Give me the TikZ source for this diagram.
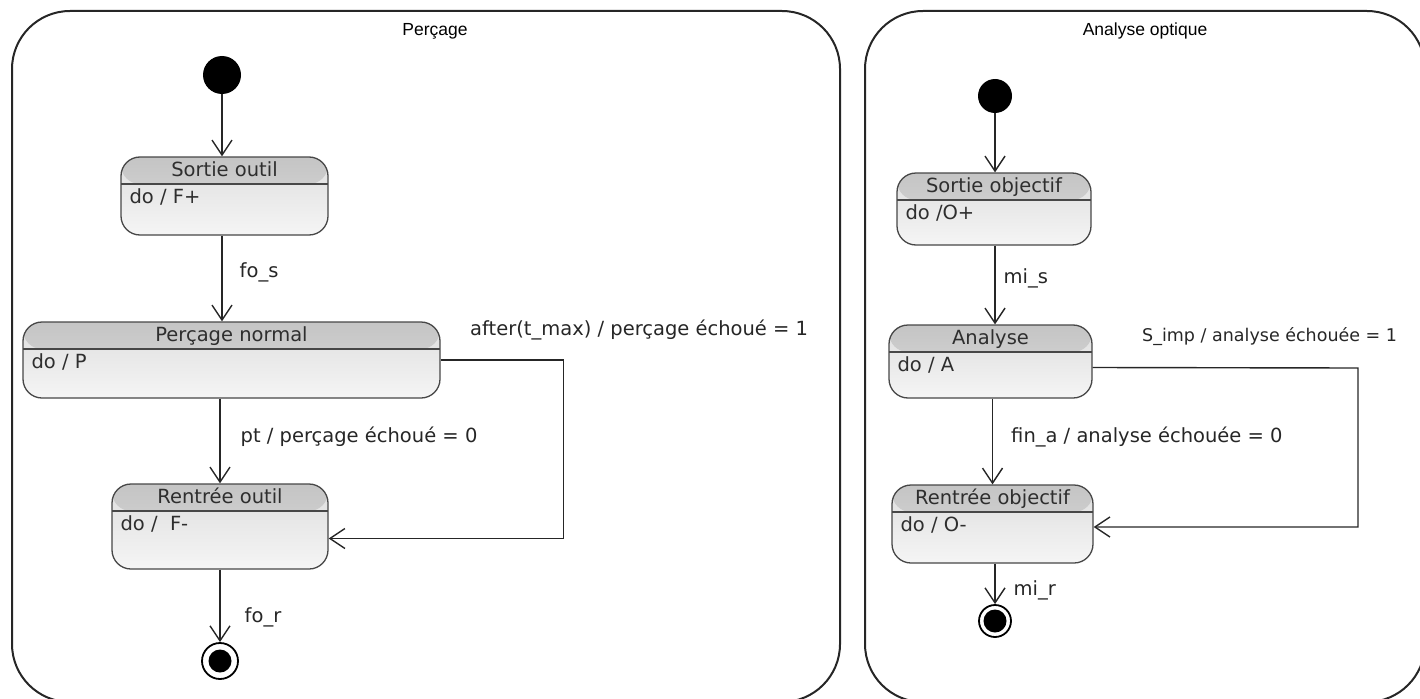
\documentclass[tikz,border=0pt]{standalone}
\usepackage{fontspec}
\setmainfont{DejaVu Sans}
\newfontfamily\framefont{Liberation Sans}
\usetikzlibrary{arrows.meta,positioning,calc}
\newcommand{\umlstate}[7]{% name, x, y, width, height, title, action
  \node[umlstate, minimum width=#4pt, minimum height=#5pt] (#1) at (#2,#3) {};
  \node[statetext, anchor=base] (#1title) at ([yshift=-20pt]#1.north) {#6};
  \node[statetext, anchor=base west] (#1do) at ([xshift=9pt,yshift=-47pt]#1.north west) {#7};
}

\begin{document}
\begin{tikzpicture}[
  x=1pt, y=-1pt,
  every node/.style={font=\fontsize{19.5}{22}\selectfont},
  frame/.style={draw=black!85, line width=2pt, rounded corners=58pt},
  frametitle/.style={font=\framefont\fontsize{17.5}{20}\selectfont},
  umlstate/.style={draw=black!72, line width=1.3pt, rounded corners=19pt,
    top color=black!13, bottom color=black!4, inner sep=0pt,
    path picture={
      \shade[top color=black!23, bottom color=black!14]
        (path picture bounding box.north west) rectangle ([yshift=-27pt]path picture bounding box.north east);
      \draw[black!72, line width=1.3pt]
        ([yshift=-27pt]path picture bounding box.north west) -- ([yshift=-27pt]path picture bounding box.north east);
    }},
  statetext/.style={text=black!82, inner sep=0pt},
  initial/.style={circle, fill=black, inner sep=0pt, minimum size=#1},
  final/.style={circle, draw=black, line width=1.8pt, fill=white, inner sep=0pt, minimum size=#1,
    path picture={\fill[black] (path picture bounding box.center) circle (11.5pt);}},
  trans/.style={draw=black!85, line width=1.4pt, -{Straight Barb[length=15pt,width=20pt]}},
  lbl/.style={text=black!85, inner sep=2pt}
]
\useasboundingbox (0,0) rectangle (1420,698);

% frames
\draw[frame] (12,11) rectangle (840,702);
\draw[frame] (865,11) rectangle (1425,702);
\node[frametitle] (titleP) at (435,31) {Perçage};
\node[frametitle] (titleA) at (1145,31) {Analyse optique};

% Percage
\node[initial=38pt] (iniP) at (222,75) {};
\umlstate{sortie}{224.5}{196}{207}{78}{Sortie outil}{do / F+}
\umlstate{percage}{231.5}{360}{417}{76}{Perçage normal}{do / P}
\umlstate{rentree}{220}{526.5}{216}{85}{Rentrée outil}{do /~~F-}
\node[final=36pt] (finP) at (220,661) {};

\draw[trans] (iniP) -- (iniP |- sortie.north);
\draw[trans] (sortie.south -| iniP) -- node[lbl, pos=0.43, right=15pt] {fo\_s} (iniP |- percage.north);
\draw[trans] (percage.south -| rentree) -- node[lbl, pos=0.45, right=18pt] {pt / perçage échoué = 0} (rentree.north);
\draw[trans] (rentree) -- node[lbl, pos=0.66, right=22pt] {fo\_r} (finP);
\draw[trans] (percage.east) -- ++(123,0) |- ([yshift=-12pt]rentree.east);
\node[lbl, anchor=west] (afterP) at (468,330) {after(t\_max) / perçage échoué = 1};

% Analyse optique
\node[initial=34pt] (iniA) at (995,96) {};
\umlstate{sortieobj}{994}{209}{194}{72}{Sortie objectif}{do /O+}
\umlstate{analyse}{990.5}{361.5}{203}{73}{Analyse}{do / A}
\umlstate{rentreeobj}{992.5}{524}{201}{78}{Rentrée objectif}{do / O-}
\node[final=32pt] (finA) at (995,621) {};

\draw[trans] (iniA) -- (iniA |- sortieobj.north);
\draw[trans] (sortieobj.south -| iniA) -- node[lbl, pos=0.42, right=6pt] {mi\_s} (iniA |- analyse.north);
\draw[trans] (analyse.south -| rentreeobj) -- node[lbl, pos=0.45, right=16pt] {fin\_a / analyse échouée = 0} (rentreeobj.north);
\draw[trans] (rentreeobj.south -| finA) -- node[lbl, pos=0.66, right=16pt] {mi\_r} (finA);
\draw[trans] ([yshift=-6pt]analyse.east) -- (1358,368) |- ([yshift=-3pt]rentreeobj.east);
\node[lbl, anchor=west, font=\fontsize{17.5}{20}\selectfont] (impA) at (1140,337) {S\_imp / analyse échouée = 1};
\end{tikzpicture}
\end{document}
